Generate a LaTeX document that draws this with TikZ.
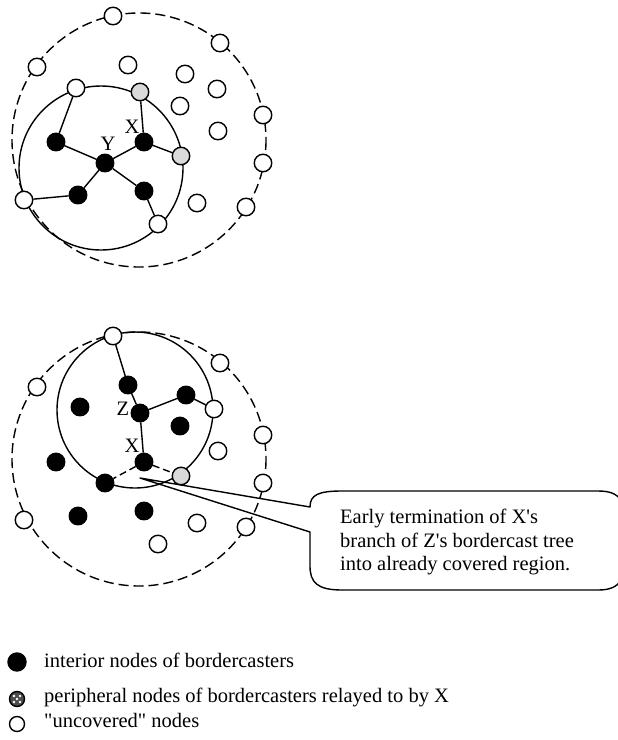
\documentclass[tikz,border=0pt]{standalone}
\usepackage{fontspec}
\setmainfont{Liberation Serif}[Ligatures=TeXOff]
\begin{document}
\begin{tikzpicture}[x=1pt,y=-1pt,
  vtx/.style={circle,draw,line width=1.4pt,minimum size=17.5pt,inner sep=0pt},
  wnode/.style={vtx,fill=white},
  bnode/.style={vtx,fill=black},
  gnode/.style={vtx,fill=black!15},
  link/.style={line width=1.4pt},
  ringline/.style={line width=1.4pt},
  reachline/.style={line width=1.4pt,dash pattern=on 10pt off 5pt},
  lbl/.style={font=\fontsize{20.5}{23.5}\selectfont,inner sep=0pt}]
\useasboundingbox (0,0) rectangle (618,740);

% ---------- upper scenario: Y's bordercast tree ----------
\draw[reachline] (139,140) circle (127);
\draw[ringline] (101,168) circle (82);

\foreach \n/\p in {a1/{113,16},a2/{220,43},a3/{37,67},a4/{128,65},a5/{185,74},
  a6/{217,89},a7/{76,88},a8/{180,106},a9/{263,115},a10/{218,131},a11/{263,163},
  a12/{24,200},a13/{197,203},a14/{246,207},a15/{158,224}}
  \node[wnode] (\n) at (\p) {};
\node[gnode] (r1) at (140,92) {};
\node[gnode] (r2) at (181,156) {};
\node[bnode] (b1) at (56,142) {};
\node[bnode] (tx) at (144,142) {};
\node[bnode] (ty) at (105,163) {};
\node[bnode] (b2) at (78,195) {};
\node[bnode] (b3) at (144,191) {};

\draw[link] (ty) -- (b1) (ty) -- (tx) (ty) -- (b2) (ty) -- (b3)
  (b1) -- (a7) (tx) -- (r1) (tx) -- (r2) (b2) -- (a12) (b3) -- (a15);

\node[lbl] (lx1) at (132,127) {X};
\node[lbl] (ly) at (108,144) {Y};

% ---------- lower scenario: Z's bordercast tree ----------
\draw[reachline] (139,459) circle (127);
\draw[ringline] (135,410) circle (78);

\foreach \n/\p in {c1/{113,336},c2/{220,363},c3/{37,387},c4/{214,409},
  c5/{263,435},c6/{218,451},c7/{263,483},c8/{24,520},c9/{197,523},
  c10/{246,527},c11/{158,544}}
  \node[wnode] (\n) at (\p) {};
\node[gnode] (s1) at (181,476) {};
\foreach \n/\p in {d1/{128,385},d2/{186,395},d3/{80,407},tz/{140,413},
  d4/{180,426},d5/{56,462},bx/{144,462},d6/{105,483},d7/{78,516},d8/{144,511}}
  \node[bnode] (\n) at (\p) {};

\draw[link] (c1) -- (d1) -- (tz) -- (d2) -- (c4) (tz) -- (bx);
\draw[reachline,dash pattern=on 7pt off 4pt] (bx) -- (d6) (bx) -- (s1);

\node[lbl] (lz) at (123,409) {Z};
\node[lbl] (lx2) at (132,446) {X};

% ---------- callout ----------
\coordinate (tip) at (140,478);
\draw[link,line join=round] (310,507) -- (tip) -- (310,532) -- (310,566)
  .. controls (310,583) and (318,590) .. (342,590) -- (598,590)
  .. controls (620,590) and (628,580) .. (628,540)
  .. controls (628,500) and (620,491) .. (598,491) -- (342,491)
  .. controls (318,491) and (310,495) .. (310,507) -- cycle;
\node[lbl,anchor=north west,align=left] (note) at (340,509)
  {Early termination of X's\\branch of Z's bordercast tree\\into already covered region.};

% ---------- legend ----------
\node[bnode,minimum size=18pt] (k1) at (17,662) {};
\node[vtx,minimum size=15pt,fill=black!70] (k2) at (17,699) {};
\foreach \dx/\dy in {-3/-3,3/-3,-3/3,3/3,0/0}
  \fill[white] ([shift={(\dx,\dy)}]k2.center) circle (1.4);
\node[wnode,minimum size=15pt] (k3) at (17,724) {};

\node[lbl,anchor=base west] (t1) at (44,667) {interior nodes of bordercasters};
\node[lbl,anchor=base west] (t2) at (44,702) {peripheral nodes of bordercasters relayed to by X};
\node[lbl,anchor=base west] (t3) at (44,727) {"uncovered" nodes};
\end{tikzpicture}
\end{document}
